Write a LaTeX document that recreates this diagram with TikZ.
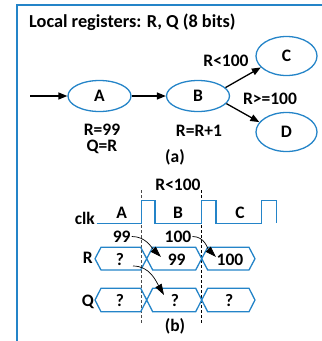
\documentclass[tikz,border=0pt]{standalone}
\usepackage{fontspec}
\setmainfont{Carlito}
\usetikzlibrary{shapes.geometric,arrows.meta}
\definecolor{fblue}{RGB}{36,132,200}
\tikzset{
  st/.style={ellipse,draw=fblue,line width=1.3pt,minimum width=63pt,minimum height=31pt,inner sep=0pt,font=\bfseries\fontsize{17.5}{17.5}\selectfont},
  stc/.style={st,minimum width=61pt,minimum height=39pt},
  lbl/.style={inner sep=0pt,font=\bfseries\fontsize{17.5}{17.5}\selectfont},
  arr/.style={line width=1.3pt,-{Triangle[length=9pt,width=7pt]}},
  carr/.style={line width=0.7pt,-{Triangle[length=11pt,width=7pt]}},
  bus/.style={draw=fblue,line width=1.3pt,line join=miter},
  dsh/.style={dashed,line width=0.6pt,dash pattern=on 3pt off 2pt}
}
\begin{document}
\begin{tikzpicture}[x=1pt,y=-1pt]
\useasboundingbox (0,0) rectangle (322,341);
\draw[fblue,line width=1.3pt] (17,341) -- (17,5) -- (322,5);
\node[lbl,anchor=west,font=\bfseries\fontsize{18.3}{18.3}\selectfont] (title) at (29,22) {Local registers: R, Q (8 bits)};
% (a)
\coordinate (in) at (30,96);
\node[st] (A) at (99.5,96) {A};
\node[st] (B) at (198,96) {B};
\node[stc] (C) at (286.5,56) {C};
\node[stc] (D) at (286.5,132) {D};
\draw[arr] (in) -- (A);
\draw[arr] (A) -- (B);
\draw[arr] (B.17) -- (C.204);
\draw[arr] (B.-15) -- (D.160);
\node[lbl] (c1) at (226,61) {R<100};
\node[lbl] (c2) at (270,99) {R>=100};
\node[lbl,align=center,font=\bfseries\fontsize{17.5}{16}\selectfont] (ra) at (102,139) {R=99\\Q=R};
\node[lbl] (rb) at (199,131) {R=R+1};
\node[lbl] (capa) at (175,157) {(a)};
% (b)
\node[lbl] (cond) at (178,185) {R<100};
\draw[dsh,black!70] (141.7,190) -- (141.7,324);
\draw[dsh] (201.7,190) -- (201.7,324);
\draw[fblue,line width=1.3pt] (96.7,223.3) -- (141.7,223.3) -- (141.7,200.7) -- (155,200.7) -- (155,223.3)
  -- (201.7,223.3) -- (201.7,200.7) -- (216,200.7) -- (216,223.3) -- (261.7,223.3) -- (261.7,200.7)
  -- (276.7,200.7) -- (276.7,223.3);
\node[lbl,anchor=east] (clk) at (95,218) {clk};
\node[lbl] (sa) at (121.7,212.7) {A};
\node[lbl] (sb) at (178,212.7) {B};
\node[lbl] (sc) at (240,212.7) {C};
% R bus
\draw[bus] (95,258.7) -- (101,247.3) -- (140.7,247.3) -- (152.7,270) -- (195.7,270) -- (207.7,247.3) -- (249,247.3) -- (255,258.7)
  -- (249,270) -- (207.7,270) -- (195.7,247.3) -- (152.7,247.3) -- (140.7,270) -- (101,270) -- cycle;
% Q bus
\draw[bus] (95,300) -- (101,288.3) -- (140.7,288.3) -- (152.7,311.7) -- (195.7,311.7) -- (207.7,288.3) -- (249,288.3) -- (255,300)
  -- (249,311.7) -- (207.7,311.7) -- (195.7,288.3) -- (152.7,288.3) -- (140.7,311.7) -- (101,311.7) -- cycle;
\node[lbl,anchor=east] (rl) at (93,257.5) {R};
\node[lbl,anchor=east] (ql) at (94,301.5) {Q};
\node[lbl] (r1) at (120,259.5) {?};
\node[lbl] (r2) at (176.7,259.5) {99};
\node[lbl] (r3) at (230,259.5) {100};
\node[lbl] (q1) at (120,300.5) {?};
\node[lbl] (q2) at (175,300.5) {?};
\node[lbl] (q3) at (229.3,300.5) {?};
\node[lbl] (n99) at (121.7,236.5) {99};
\node[lbl] (n100) at (178,236.5) {100};
\coordinate (e1) at (161,257);
\coordinate (e2) at (216,257);
\coordinate (s3) at (133,266);
\coordinate (e3) at (164,295);
\draw[carr] ([xshift=1pt]n99.east) to[out=0,in=135] (e1);
\draw[carr] ([xshift=1pt]n100.east) to[out=0,in=135] (e2);
\draw[carr] (s3) to[out=0,in=120] (e3);
\node[lbl] (capb) at (175,326.5) {(b)};
\end{tikzpicture}
\end{document}
